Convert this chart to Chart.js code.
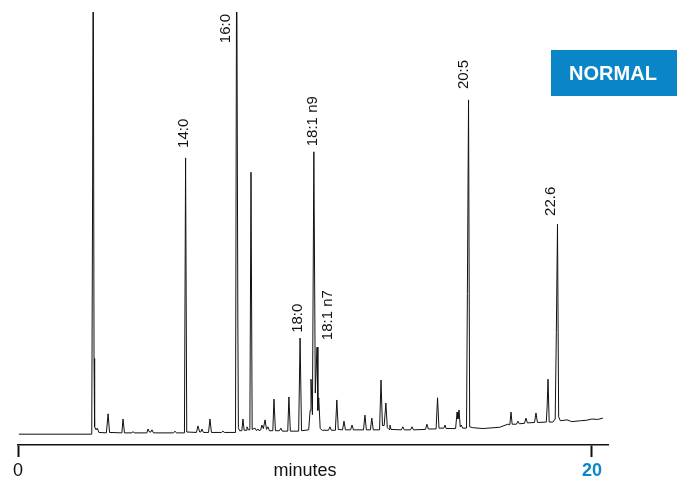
<!DOCTYPE html>
<html>
<head>
<meta charset="utf-8">
<script src="https://cdn.jsdelivr.net/npm/chart.js@4/dist/chart.umd.min.js"></script>
<style>
  html, body { margin: 0; padding: 0; background: #ffffff; }
  #wrap { position: relative; width: 677px; height: 479px; }
</style>
</head>
<body>
<div id="wrap"><canvas id="c"></canvas></div>
<script>
// ---- data (retention time in minutes, detector signal in arbitrary units) ----
const times = [
  0.03, 2.57, 2.60, 2.62, 2.65, 2.67, 2.72, 2.76, 2.82, 3.08, 3.14, 3.19, 3.62, 3.66, 3.71,
  3.97, 4.01, 4.05, 4.49, 4.53, 4.58, 4.63, 4.67, 4.72, 5.42, 5.47, 5.52, 5.80, 5.84, 5.88,
  6.22, 6.27, 6.33, 6.37, 6.41, 6.46, 6.64, 6.69, 6.74, 7.09, 7.14, 7.19, 7.58, 7.62, 7.66,
  7.68, 7.72, 7.80, 7.84, 7.88, 7.95, 7.98, 8.03, 8.08, 8.12, 8.16, 8.26, 8.31, 8.36, 8.40,
  8.46, 8.50, 8.55, 8.61, 8.66, 8.71, 8.76, 8.88, 8.92, 8.97, 9.11, 9.16, 9.21, 9.40, 9.44,
  9.49, 9.78, 9.83, 9.88, 10.13, 10.18, 10.21, 10.26, 10.31, 10.36, 10.42, 10.45, 10.48, 10.53, 10.60,
  10.82, 10.87, 10.92, 11.06, 11.11, 11.16, 11.31, 11.36, 11.41, 11.59, 11.64, 11.69, 12.04, 12.09, 12.14,
  12.28, 12.33, 12.38, 12.60, 12.65, 12.70, 12.76, 12.82, 12.87, 12.93, 12.96, 13.00, 13.36, 13.41, 13.46,
  13.68, 13.73, 13.78, 14.20, 14.25, 14.30, 14.57, 14.62, 14.67, 14.84, 14.88, 14.92, 15.25, 15.30, 15.33,
  15.37, 15.41, 15.45, 15.49, 15.63, 15.66, 15.70, 15.74, 15.85, 16.20, 16.79, 17.07, 17.14, 17.18, 17.22,
  17.37, 17.42, 17.47, 17.65, 17.70, 17.75, 18.00, 18.05, 18.10, 18.41, 18.44, 18.47, 18.51, 18.64, 18.72,
  18.76, 18.80, 18.84, 18.90, 19.13, 19.30, 19.60, 19.80, 20.00, 20.20, 20.38
];
const signal = [
  2.5, 2.5, 60, 120, 20, 4.2, 3.5, 3.9, 2.9, 2.8, 7.2, 2.9, 2.8, 6.0, 2.8,
  2.8, 3.1, 2.8, 2.8, 3.7, 3.0, 3.0, 3.5, 2.8, 2.8, 3.2, 2.8, 2.8, 66.3, 3.0,
  2.9, 4.4, 3.0, 3.0, 3.7, 2.9, 2.9, 6.0, 2.9, 2.9, 3.2, 2.9, 2.9, 120, 30,
  4.0, 3.3, 3.3, 6.0, 3.4, 3.4, 4.2, 3.5, 3.5, 63.0, 3.6, 3.9, 3.3, 3.7, 3.3,
  3.5, 4.6, 3.8, 5.8, 3.6, 4.2, 3.3, 3.3, 10.6, 3.3, 3.3, 3.9, 3.2, 3.2, 11.1,
  3.2, 3.2, 24.7, 3.3, 3.5, 8.0, 15.2, 7.0, 67.7, 12.0, 22.6, 8.0, 10.9, 3.8, 3.4,
  3.4, 4.2, 3.4, 3.4, 10.4, 3.6, 3.5, 5.5, 3.5, 3.5, 4.6, 3.5, 3.5, 6.9, 3.5,
  3.5, 6.2, 3.5, 3.5, 15.0, 4.5, 4.5, 9.7, 4.0, 3.6, 4.6, 3.6, 3.5, 4.2, 3.5,
  3.5, 4.2, 3.5, 3.6, 4.8, 3.7, 3.7, 10.9, 3.9, 3.9, 4.6, 3.8, 3.8, 7.6, 6.0,
  8.1, 4.2, 4.6, 3.9, 3.9, 35, 79.7, 4.2, 4.0, 3.8, 4.1, 4.8, 4.7, 7.6, 4.8,
  4.8, 5.5, 4.9, 5.0, 6.2, 5.1, 5.2, 7.4, 5.2, 5.3, 9.0, 15.2, 5.3, 5.3, 6.0,
  26, 51.0, 6.5, 5.6, 5.8, 5.4, 5.6, 5.7, 6.0, 5.9, 6.2
];

// x axis ticks
const xTicks = [0, 10, 20];
const xTickLabels = ['0', 'minutes', '20'];

// peak labels (anchor = label foot, in data units)
const peakLabels = ['14:0', '16:0', '18:0', '18:1 n9', '18:1 n7', '20:5', '22.6'];
const labelTimes = [5.78, 7.25, 9.76, 10.28, 10.80, 15.54, 18.57];
const labelSignals = [68.6, 92.8, 25.9, 69.0, 24.2, 82.2, 52.9];

const badgeText = 'NORMAL';

// ---- rendering ----
const FONT = '"Liberation Sans", Arial, Helvetica, sans-serif';
const BLUE = '#0a86c8';

const labelPlugin = {
  id: 'peakLabels',
  afterDatasetsDraw(chart) {
    const ctx = chart.ctx;
    const xs = chart.scales.x, ys = chart.scales.y;
    ctx.save();
    ctx.fillStyle = '#111';
    ctx.font = '15px ' + FONT;
    ctx.textAlign = 'left';
    ctx.textBaseline = 'middle';
    peakLabels.forEach((txt, i) => {
      const px = xs.getPixelForValue(labelTimes[i]);
      const py = ys.getPixelForValue(labelSignals[i]);
      ctx.save();
      ctx.translate(px, py);
      ctx.rotate(-Math.PI / 2);
      ctx.fillText(txt, 0, 0);
      ctx.restore();
    });
    // badge
    ctx.fillStyle = BLUE;
    ctx.fillRect(551, 50, 126, 46);
    ctx.fillStyle = '#ffffff';
    ctx.font = 'bold 20px ' + FONT;
    ctx.textAlign = 'center';
    ctx.textBaseline = 'middle';
    ctx.fillText(badgeText, 613, 74);
    ctx.restore();
  }
};

new Chart(document.getElementById('c'), {
  type: 'line',
  data: {
    datasets: [{
      data: times.map((t, i) => ({ x: t, y: signal[i] })),
      borderColor: '#111',
      borderWidth: 1,
      pointRadius: 0,
      tension: 0,
      fill: false
    }]
  },
  options: {
    animation: false,
    responsive: true,
    maintainAspectRatio: false,
    layout: { padding: { left: 18, right: 69, top: 12, bottom: 0 } },
    plugins: { legend: { display: false }, tooltip: { enabled: false } },
    scales: {
      x: {
        type: 'linear',
        min: 0,
        max: 20.56,
        afterBuildTicks: s => { s.ticks = xTicks.map(v => ({ value: v })); },
        afterFit: s => { s.height = 34; },
        ticks: {
          autoSkip: false,
          maxRotation: 0,
          padding: 5,
          callback: (v, i) => xTickLabels[i],
          color: c => (c.index === 2 ? BLUE : '#111'),
          font: c => ({ family: FONT, size: 18, weight: c.index === 2 ? 'bold' : 'normal', lineHeight: 1 })
        },
        grid: {
          drawOnChartArea: false,
          drawTicks: true,
          tickLength: 12,
          tickWidth: 2,
          tickColor: c => (c.index === 1 ? 'rgba(0,0,0,0)' : '#111')
        },
        border: { display: true, color: '#111', width: 1.5 }
      },
      y: { display: false, min: 0, max: 100 }
    }
  },
  plugins: [labelPlugin]
});
</script>
</body>
</html>
